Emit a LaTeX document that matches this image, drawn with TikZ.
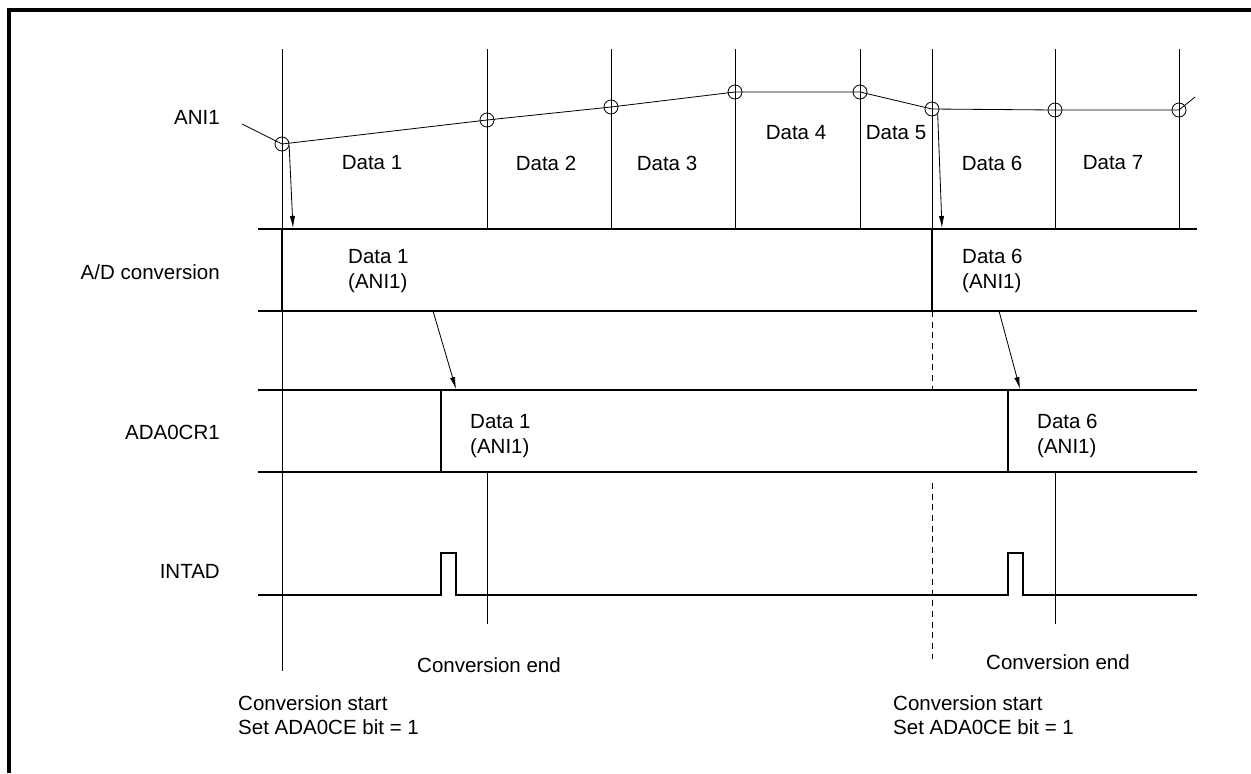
\documentclass[tikz,border=0pt]{standalone}
\usepackage{fontspec}
\setmainfont{Liberation Sans}
\usetikzlibrary{arrows.meta}

\begin{document}
\begin{tikzpicture}[x=0.03cm, y=-0.03cm,
  font=\fontsize{17.5}{21}\selectfont,
  sig/.style={line width=1.8pt},
  hair/.style={line width=0.7pt},
  smp/.style={circle, draw, line width=0.7pt, minimum size=0.42cm, inner sep=0pt},
  arr/.style={-{Latex[length=0.36cm, width=0.16cm]}, line width=0.7pt},
  sname/.style={anchor=east, inner sep=0pt},
  val/.style={anchor=west, align=left, inner sep=0pt},
  note/.style={anchor=west, align=left, inner sep=0pt},
  dsh/.style={hair, dash pattern=on 0.18cm off 0.14cm}
]
\useasboundingbox (0,0) rectangle (1251,773);

% frame, cut at the right and at the bottom
\draw[line width=2.6pt] (9,773) -- (9,10) -- (1251,10);

% Signal names
\node[sname] (ani) at (220,117) {ANI1};
\node[sname] (adc) at (220,272) {A/D conversion};
\node[sname] (reg) at (220,432) {ADA0CR1};
\node[sname] (intad) at (220,571) {INTAD};

% ANI1: sampling grid and input curve
\draw[hair] (282,49) -- (282,229);
\draw[hair] (487,49) -- (487,229);
\draw[hair] (611,49) -- (611,229);
\draw[hair] (735,49) -- (735,229);
\draw[hair] (860,49) -- (860,229);
\draw[hair] (932,49) -- (932,229);
\draw[hair] (1055,49) -- (1055,229);
\draw[hair] (1179,49) -- (1179,229);

\node[smp] (s1) at (282,144) {};
\node[smp] (s2) at (487,120) {};
\node[smp] (s3) at (611,107) {};
\node[smp] (s4) at (735,92) {};
\node[smp] (s5) at (860,92) {};
\node[smp] (s6) at (932,109) {};
\node[smp] (s7) at (1055,110) {};
\node[smp] (s8) at (1179,110) {};
\coordinate (ani0) at (242,124);
\coordinate (ani9) at (1195,97);
\draw[hair] (ani0) -- (s1.center) -- (s2.center) -- (s3.center) -- (s4.center)
  -- (s5.center) -- (s6.center) -- (s7.center) -- (s8.center) -- (ani9);

\node (dat1) at (372,163) {Data 1};
\node (dat2) at (546,163) {Data 2};
\node (dat3) at (667,163) {Data 3};
\node (dat4) at (796,133) {Data 4};
\node (dat5) at (896,133) {Data 5};
\node (dat6) at (992,163) {Data 6};
\node (dat7) at (1113,163) {Data 7};

% A/D conversion
\draw[sig] (258,229) -- (1197,229);
\draw[sig] (258,311) -- (1197,311);
\draw[sig] (282,229) -- (282,311);
\draw[sig] (932,229) -- (932,311);
\node[val] (adv1) at (348,271) {Data 1\\(ANI1)};
\node[val] (adv6) at (962,271) {Data 6\\(ANI1)};

% ADA0CR1
\draw[sig] (258,390) -- (1197,390);
\draw[sig] (258,472) -- (1197,472);
\draw[sig] (441,390) -- (441,472);
\draw[sig] (1008,390) -- (1008,472);
\node[val] (regv1) at (470,436) {Data 1\\(ANI1)};
\node[val] (regv6) at (1037,436) {Data 6\\(ANI1)};

% INTAD
\draw[sig] (258,595) -- (441,595) -- (441,553) -- (456,553) -- (456,595)
  -- (1008,595) -- (1008,553) -- (1023,553) -- (1023,595) -- (1197,595);

% start and end marks
\draw[hair] (282,311) -- (282,671);
\draw[dsh] (932,311) -- (932,390);
\draw[dsh] (932,483) -- (932,659);
\draw[hair] (487,472) -- (487,624);
\draw[hair] (1055,472) -- (1055,624);

\node (end1) at (489,665) {Conversion end};
\node (end6) at (1058,662) {Conversion end};
\node[note] (start1) at (238,715) {Conversion start\\Set ADA0CE bit = 1};
\node[note] (start6) at (893,715) {Conversion start\\Set ADA0CE bit = 1};

% transfers
\coordinate (ad1) at (293,228);
\coordinate (ad6) at (942,228);
\coordinate (cv1) at (433,311);
\coordinate (cv6) at (999,311);
\coordinate (rg1) at (456,389);
\coordinate (rg6) at (1020,389);
\draw[arr] (s1.-15) -- (ad1);
\draw[arr] (s6.-40) -- (ad6);
\draw[arr] (cv1) -- (rg1);
\draw[arr] (cv6) -- (rg6);

\end{tikzpicture}
\end{document}
